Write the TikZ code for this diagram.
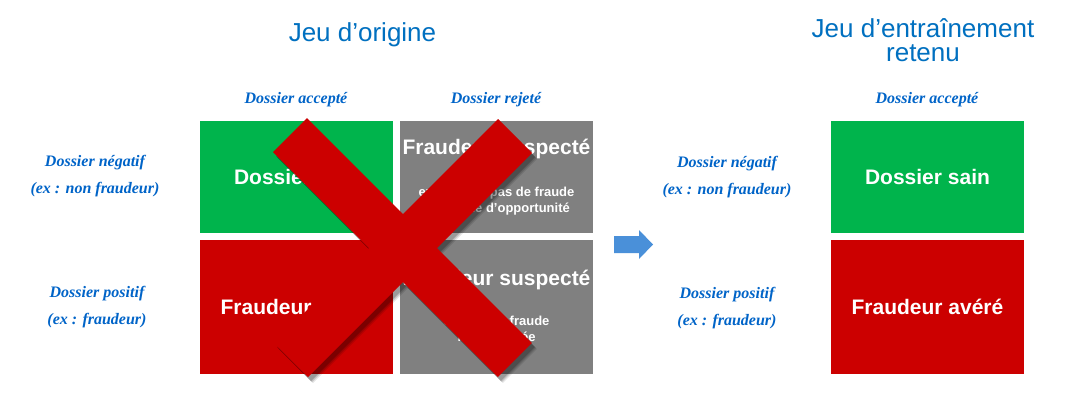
\documentclass[tikz,border=0pt]{standalone}
\usepackage{fontspec}
\newfontfamily\arial{Liberation Sans}
\newfontfamily\handfont{Liberation Serif}
\definecolor{tblue}{RGB}{0,112,192}
\definecolor{sblue}{RGB}{0,100,200}
\definecolor{okgreen}{RGB}{0,180,76}
\definecolor{badred}{RGB}{204,0,0}
\definecolor{boxgray}{RGB}{128,128,128}
\definecolor{arrblue}{RGB}{74,144,217}
\begin{document}
\begin{tikzpicture}[x=1pt,y=-1pt,
  cell/.style={minimum width=193pt, inner sep=0pt, text=white,
    font=\arial\bfseries\fontsize{21}{25}\selectfont},
  topcell/.style={cell, minimum height=112pt},
  botcell/.style={cell, minimum height=134pt},
  subtxt/.style={text=white, inner sep=0pt, align=center,
    font=\arial\bfseries\fontsize{13}{16}\selectfont},
  headtxt/.style={text=white, inner sep=0pt,
    font=\arial\bfseries\fontsize{21}{25}\selectfont},
  title/.style={text=tblue, inner sep=0pt, align=center,
    font=\arial\fontsize{26}{24}\selectfont},
  hand/.style={text=sblue, inner sep=0pt, align=center,
    font=\handfont\bfseries\itshape\fontsize{16}{27}\selectfont},
  crossbar/.style={fill=badred},
]
\useasboundingbox (0,0) rectangle (1072,402);
\fill[white] (0,0) rectangle (1072,402);

% titles
\node[title] (t1) at (362.5,35) {Jeu d’origine};
\node[title] (t2) at (923,40) {Jeu d’entraînement\\retenu};

% column headers
\node[hand] (ca1) at (296,100) {Dossier accepté};
\node[hand] (cr1) at (496,100) {Dossier rejeté};
\node[hand] (ca2) at (927,100) {Dossier accepté};

% row headers
\node[hand] (rn1) at (95,176) {Dossier négatif\\(ex : non fraudeur)};
\node[hand] (rp1) at (97,307) {Dossier positif\\(ex : fraudeur)};
\node[hand] (rn2) at (727,177) {Dossier négatif\\(ex : non fraudeur)};
\node[hand] (rp2) at (727,308) {Dossier positif\\(ex : fraudeur)};

% original set
\node[topcell, fill=okgreen] (g1) at (296.5,177) {Dossier sain};
\node[botcell, fill=badred] (r1) at (296.5,307) {Fraudeur avéré};
\node[topcell, fill=boxgray] (s1) at (496.5,177) {};
\node[botcell, fill=boxgray] (s2) at (496.5,307) {};
\node[headtxt] (s1h) at (496.5,149) {Fraudeur suspecté};
\node[subtxt] (s1s) at (496.5,201) {ex : il n’y a pas de fraude\\ou fraude d’opportunité};
\node[headtxt] (s2h) at (496.5,280) {Fraudeur suspecté};
\node[subtxt] (s2s) at (496.5,330) {ex : doute fraude\\non prouvée};

% retained set
\node[topcell, fill=okgreen] (g2) at (927.5,177) {Dossier sain};
\node[botcell, fill=badred] (r2) at (927.5,307) {Fraudeur avéré};

% arrow
\fill[arrblue] (614,236) -- (639,236) -- (639,230) -- (653,244.5)
  -- (639,259) -- (639,253) -- (614,253) -- cycle;

% cross shadow
\foreach \dx/\dy/\op in {5/6/0.10, 4/5/0.15, 3/4/0.2} {
\fill[black, opacity=\op, shift={(\dx,\dy)}]
  (307.1,118.1) -- (273.1,152.1) -- (497.9,376.9) -- (531.9,342.9) -- cycle
  (498,119) -- (532,153) -- (308,377) -- (274,343) -- cycle;
}
% cross
\fill[crossbar] (307.1,118.1) -- (273.1,152.1) -- (497.9,376.9) -- (531.9,342.9) -- cycle;
\fill[crossbar] (498,119) -- (532,153) -- (308,377) -- (274,343) -- cycle;
\end{tikzpicture}
\end{document}
